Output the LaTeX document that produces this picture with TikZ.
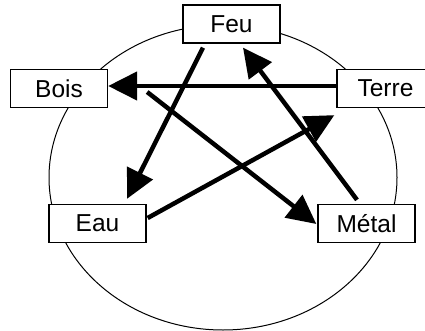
\documentclass[tikz,border=0pt]{standalone}
\usepackage{fontspec}
\setmainfont{Liberation Sans}
\usetikzlibrary{arrows.meta}
\tikzset{
	boite/.style={draw, line width=1.3pt, fill=white, minimum width=97pt, minimum height=38pt, inner sep=0pt, font=\fontsize{24.5}{28}\selectfont},
	fleche/.style={line width=4.5pt, -{Triangle[length=29pt, width=28pt]}}
}
\begin{document}
\begin{tikzpicture}[x=1pt, y=-1pt]
	\useasboundingbox (0,0) rectangle (425,331);
	% Cercle
	\draw[line width=1pt] (223,177.5) ellipse [x radius=174, y radius=152.5];
	% Elements
	\node[boite] (Feu) at (231.5,24) {Feu};
	\node[boite] (Bois) at (59,88.5) {Bois};
	\node[boite] (Terre) at (385.5,88.5) {Terre};
	\node[boite] (Eau) at (97.5,223.5) {Eau};
	\node[boite] (Metal) at (366.5,223.5) {Métal};
	% Cycle de destruction
	\draw[fleche] ([shift={(-28.5,4)}]Feu.south) -- ([shift={(29.5,-5)}]Eau.north);
	\draw[fleche] ([shift={(0,-2.5)}]Terre.west) -- ([shift={(0,-2.5)}]Bois.east);
	\draw[fleche] ([shift={(39,3.5)}]Bois.east) -- ([shift={(-1,0.5)}]Metal.west);
	\draw[fleche] ([shift={(1,-5.5)}]Eau.east) -- ([shift={(-2,7)}]Terre.south west);
	\draw[fleche] ([shift={(-9.5,-4)}]Metal.north) -- ([shift={(11.5,4)}]Feu.south);
\end{tikzpicture}
\end{document}
